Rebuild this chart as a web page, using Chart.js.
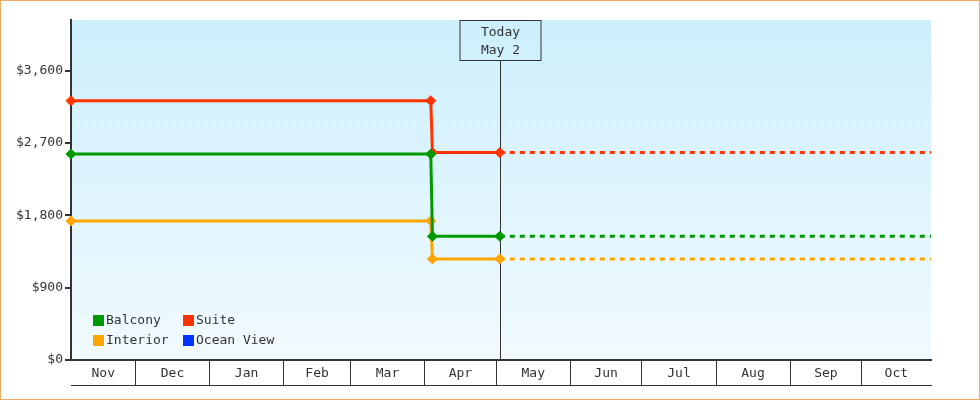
<!DOCTYPE html>
<html>
<head>
<meta charset="utf-8">
<script src="https://cdn.jsdelivr.net/npm/chart.js@4"></script>
<style>
  html, body { margin: 0; padding: 0; background: #fff; }
  canvas { display: block; }
</style>
</head>
<body>
<canvas id="priceChart" width="980" height="400"></canvas>
<script>
// x values are days counted from Nov 1
const monthLabels = ['Nov', 'Dec', 'Jan', 'Feb', 'Mar', 'Apr', 'May', 'Jun', 'Jul', 'Aug', 'Sep', 'Oct'];
const monthStartDays = [30, 61, 92, 120, 151, 181, 212, 242, 273, 304, 334];
const rangeStart = 3;
const rangeEnd = 363;
const todayDay = 182.5;
const todayLabel = ['Today', 'May 2'];

const yTicks = [0, 900, 1800, 2700, 3600];
const yMax = 4230;

const priceDays = [3, 153.6, 154.3, 182.5, 363];
const balcony = [2562, 2562, 1539, 1539, 1539];
const suite = [3226, 3226, 2580, 2580, 2580];
const interior = [1730, 1730, 1258, 1258, 1258];
const oceanView = [];

const FONT = 'DejaVu Sans Mono';
Chart.defaults.font.family = FONT;
Chart.defaults.font.size = 13;
Chart.defaults.color = '#333';

// month band edges and label centres
const edges = [rangeStart].concat(monthStartDays, [rangeEnd]);
const monthMids = monthLabels.map((m, i) => (edges[i] + edges[i + 1]) / 2);

function toPoints(vals) {
    return vals.map((v, i) => ({ x: priceDays[i], y: v }));
}

function series(label, color, vals) {
    return {
        label: label,
        data: toPoints(vals),
        borderColor: color,
        backgroundColor: color,
        borderWidth: 3,
        clip: false,
        pointStyle: 'rectRot',
        pointRadius: ctx => ctx.dataIndex === vals.length - 1 ? 0 : 5,
        pointBorderWidth: 1,
        pointBorderColor: color,
        pointBackgroundColor: color,
        tension: 0,
        fill: false,
        segment: {
            borderDash: ctx => ctx.p0.parsed.x >= todayDay ? [5, 5] : undefined
        }
    };
}

const bgPlugin = {
    id: 'plotBg',
    beforeDraw(chart) {
        const { ctx, chartArea: a } = chart;
        const g = ctx.createLinearGradient(0, a.top, 0, a.bottom);
        g.addColorStop(0, '#cceffc');
        g.addColorStop(1, '#f1faff');
        ctx.save();
        ctx.fillStyle = g;
        ctx.fillRect(a.left, a.top, a.right - a.left, a.bottom - a.top);
        ctx.restore();
    }
};

const todayPlugin = {
    id: 'todayMark',
    beforeDatasetsDraw(chart) {
        const { ctx, chartArea: a } = chart;
        const x = Math.round(chart.scales.x.getPixelForValue(todayDay)) + 0.5;
        const boxW = 81, boxH = 40;
        ctx.save();
        ctx.strokeStyle = '#333';
        ctx.lineWidth = 1;
        ctx.beginPath();
        ctx.moveTo(x, a.top + boxH);
        ctx.lineTo(x, a.bottom);
        ctx.stroke();
        ctx.strokeRect(x - boxW / 2, a.top + 0.5, boxW, boxH);
        ctx.fillStyle = '#333';
        ctx.font = '13px "' + FONT + '"';
        ctx.textAlign = 'center';
        ctx.textBaseline = 'middle';
        ctx.fillText(todayLabel[0], x, a.top + 13);
        ctx.fillText(todayLabel[1], x, a.top + 31);
        ctx.restore();
    }
};

const legendPlugin = {
    id: 'boxLegend',
    afterDatasetsDraw(chart) {
        const { ctx, chartArea: a } = chart;
        const order = [0, 1, 2, 3];
        const colX = [a.left + 22, a.left + 112];
        const rowY = [a.bottom - 45, a.bottom - 25];
        ctx.save();
        ctx.font = '13px "' + FONT + '"';
        ctx.textBaseline = 'middle';
        ctx.textAlign = 'left';
        order.forEach((di, k) => {
            const ds = chart.data.datasets[di];
            const x = colX[k % 2], y = rowY[Math.floor(k / 2)];
            ctx.fillStyle = ds.borderColor;
            ctx.fillRect(x, y, 11, 11);
            ctx.fillStyle = '#333';
            ctx.fillText(ds.label, x + 13, y + 6);
        });
        ctx.restore();
    }
};

const framePlugin = {
    id: 'frame',
    afterDraw(chart) {
        const ctx = chart.ctx;
        ctx.save();
        ctx.strokeStyle = '#e9aa66';
        ctx.lineWidth = 1;
        ctx.strokeRect(0.5, 0.5, chart.width - 1, chart.height - 1);
        ctx.restore();
    }
};

new Chart(document.getElementById('priceChart').getContext('2d'), {
    type: 'line',
    data: {
        datasets: [
            series('Balcony', '#009900', balcony),
            series('Suite', '#ff3300', suite),
            series('Interior', '#ffa500', interior),
            series('Ocean View', '#0033ff', oceanView)
        ]
    },
    options: {
        responsive: false,
        devicePixelRatio: 1,
        animation: false,
        layout: { padding: { left: 0, right: 49, top: 20, bottom: 0 } },
        plugins: {
            legend: { display: false },
            tooltip: { enabled: false }
        },
        scales: {
            x: {
                type: 'linear',
                position: 'bottom',
                min: rangeStart,
                max: rangeEnd,
                weight: 0,
                afterBuildTicks: scale => {
                    scale.ticks = monthMids.concat(monthStartDays)
                        .sort((p, q) => p - q)
                        .map(v => ({ value: v }));
                },
                afterFit: scale => { scale.height = 25; },
                grid: {
                    drawOnChartArea: false,
                    drawTicks: true,
                    tickLength: 25,
                    lineWidth: 1,
                    color: ctx => (ctx.tick && monthMids.includes(ctx.tick.value)) ? 'rgba(0,0,0,0)' : '#333'
                },
                border: { display: true, color: '#333', width: 2 },
                ticks: {
                    autoSkip: false,
                    maxRotation: 0,
                    padding: -19,
                    callback: v => {
                        const i = monthMids.indexOf(v);
                        return i >= 0 ? monthLabels[i] : '';
                    }
                }
            },
            x2: {
                type: 'linear',
                position: 'bottom',
                min: rangeStart,
                max: rangeEnd,
                weight: 1,
                afterFit: scale => { scale.height = 15; },
                grid: { display: false, drawTicks: false },
                border: { display: true, color: '#333', width: 1 },
                ticks: { display: false }
            },
            y: {
                type: 'linear',
                min: 0,
                max: yMax,
                afterBuildTicks: scale => {
                    scale.ticks = yTicks.map(v => ({ value: v }));
                },
                afterFit: scale => { scale.width = 71; },
                grid: {
                    drawOnChartArea: false,
                    drawTicks: true,
                    tickLength: 6,
                    lineWidth: 2,
                    color: '#333'
                },
                border: { display: true, color: '#333', width: 2 },
                ticks: {
                    padding: 2,
                    callback: v => '$' + v.toLocaleString('en-US')
                }
            }
        }
    },
    plugins: [bgPlugin, todayPlugin, legendPlugin, framePlugin]
});
</script>
</body>
</html>
